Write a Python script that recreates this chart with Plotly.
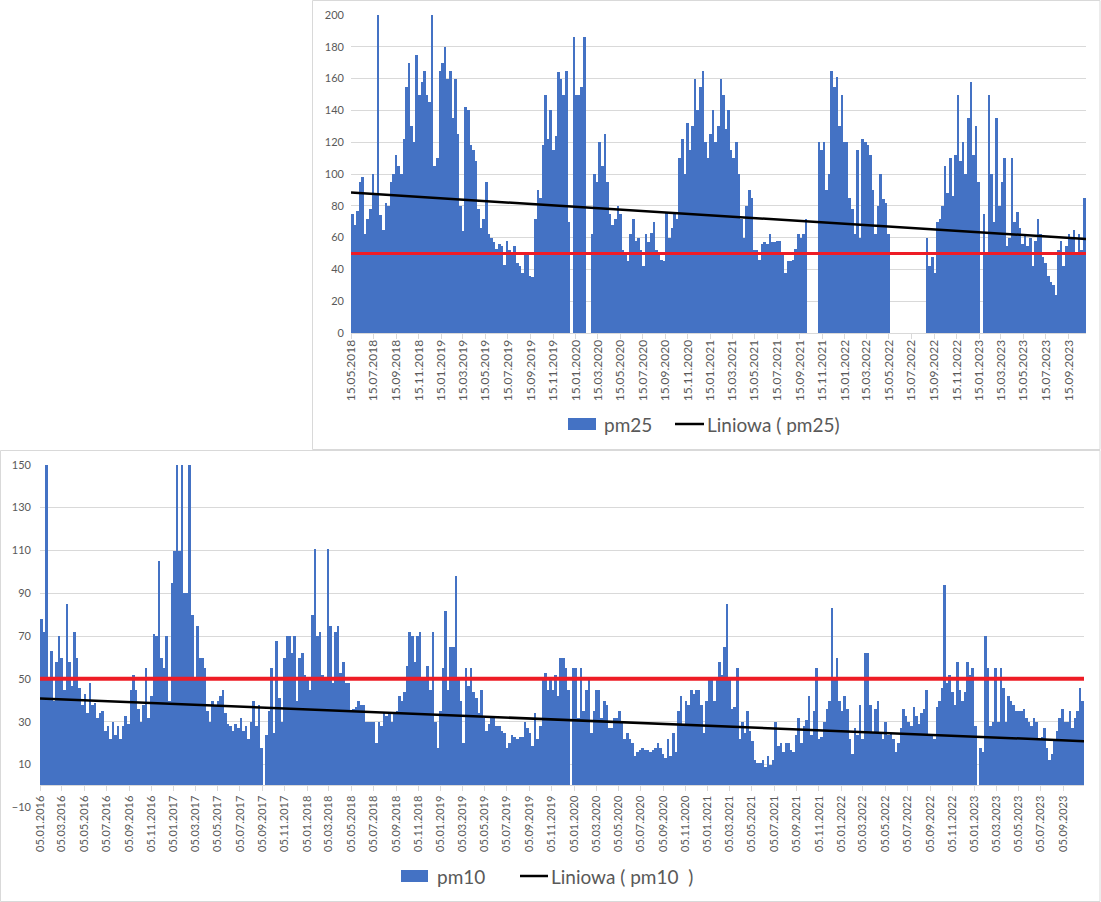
import pandas as pd
import plotly.graph_objects as go

# ---------------- DATA ----------------
# weekly pm2.5 values starting 15.05.2018 (None = no measurements)
pm25_start = "2018-05-15"
pm25 = [
    75, 68, 77, 95, 98, 62, 72, 78, 100,
    88, 200, 74, 65, 82, 80, 95, 100, 112,
    105, 100, 122, 155, 170, 130, 120, 175, 150,
    158, 165, 150, 145, 200, 105, 110, 165,
    170, 180, 160, 165, 135, 160, 125, 80, 64,
    142, 140, 118, 115, 108, 78, 66, 72, 95,
    62, 60, 57, 53, 56, 55, 43, 58,
    52, 50, 55, 44, 42, 38, 50, 50, 36,
    35, 72, 90, 85, 118, 150, 122, 140, 115,
    124, 164, 160, 150, 165, 70, None, 186, 150,
    150, 155, 186, None, None, 62, 100, 95,
    120, 105, 125, 95, 75, 68, 72, 80, 75,
    52, 50, 45, 62, 72, 58, 60, 52, 42,
    62, 57, 63, 70, 52, 51, 46, 45,
    76, 60, 66, 75, 72, 110, 122, 100, 132,
    115, 130, 160, 140, 155, 165, 120, 110, 125,
    140, 120, 130, 160, 150, 128, 140, 115,
    110, 120, 100, 72, 60, 80, 90, 85, 52,
    52, 46, 56, 57, 56, 62, 57, 57, 58,
    58, 50, 38, 45, 45, 46, 53, 62, 60,
    62, 72, None, None, None, None, 120, 115,
    120, 90, 100, 165, 155, 161, 130, 150, 120,
    120, 85, 78, 62, 115, 60, 122, 120,
    118, 112, 90, 62, 80, 100, 84, 82, 62,
    None, None, None, None, None, None, None, None, None,
    None, None, None, None, None, 60, 42, 48, 38,
    70, 72, 80, 105, 88, 110, 86, 112,
    150, 108, 120, 100, 135, 158, 112, 130, 95,
    None, 75, 50, 150, 100, 70, 135, 80, 95,
    110, 55, 60, 110, 70, 76, 66, 56,
    62, 55, 60, 42, 58, 72, 62, 48, 44,
    36, 32, 30, 24, 52, 58, 42, 55, 62,
    60, 65, 50, 62, 52, 85,
]
pm25_range = ["2018-05-15", "2023-11-01"]
pm25_trend = [88.3, 59.1]

# weekly pm10 values starting 05.01.2016
pm10_start = "2016-01-05"
pm10 = [
    78, 72, 150, 50, 63, 40, 58, 70, 60, 45,
    85, 58, 47, 72, 60, 46, 38, 43, 34, 48,
    38, 39, 32, 34, 35, 26, 28, 22, 30, 24,
    28, 22, 28, 33, 29, 45, 52, 45, 36, 30,
    38, 55, 32, 42, 71, 70, 105, 60, 55, 70,
    40, 95, 110, 150, 110, 150, 90, 90, 150, 80,
    50, 75, 60, 60, 55, 35, 30, 40, 38, 40,
    42, 45, 34, 29, 28, 26, 29, 27, 32, 26,
    28, 22, 30, 40, 28, 38, 18, None, 24, 35,
    55, 25, 68, 41, 30, 60, 70, 70, 62, 70,
    40, 60, 62, 52, 50, 45, 80, 111, 70, 72,
    52, 50, 111, 75, 48, 72, 75, 53, 58, 48,
    48, 35, 36, 37, 40, 38, 38, 30, 30, 30,
    30, 20, 30, 28, 34, 33, 34, 30, 34, 35,
    42, 40, 44, 56, 72, 70, 58, 70, 72, 50,
    50, 56, 45, 72, 30, 18, 35, 55, 82, 45,
    65, 65, 98, 50, 40, 20, 55, 47, 55, 44,
    41, 34, 45, 32, 26, 29, 33, 33, 28, 28,
    26, 25, 18, 20, 24, 23, 22, 23, 23, 30,
    27, 25, 19, 34, 22, 28, 50, 53, 45, 50,
    45, 52, 42, 60, 60, 55, 45, None, 55, 55,
    32, 55, 35, 45, 50, 25, 35, 45, 45, 32,
    40, 38, 27, 27, 32, 32, 35, 30, 22, 25,
    22, 20, 14, 16, 17, 18, 17, 17, 16, 17,
    18, 20, 18, 15, 13, 22, 14, 25, 16, 35,
    42, 28, 40, 38, 45, 43, 45, 45, 38, 25,
    40, 50, 50, 40, 50, 58, 52, 65, 85, 50,
    36, 37, 55, 22, 30, 25, 35, 26, 21, 12,
    11, 11, 12, 9, 14, 10, 12, 30, 19, 20,
    16, 20, 20, 17, 16, 24, 32, 20, 28, 31,
    42, 24, 35, 55, 22, 23, 30, 36, 40, 83,
    50, 60, 40, 35, 42, 36, 22, 15, 27, 24,
    38, 22, 62, 62, 38, 25, 36, 40, 25, 22,
    30, 24, 25, 22, 16, 20, 27, 36, 33, 30,
    28, 37, 33, 29, 34, 36, 45, 24, 24, 22,
    37, 40, 46, 94, 48, 52, 44, 38, 58, 45,
    40, 44, 58, 52, 55, 28, None, 18, 16, 70,
    55, 28, 30, 55, 30, 55, 46, 30, 42, 40,
    38, 35, 35, 35, 36, 32, 30, 28, 32, 30,
    22, 23, 27, 18, 12, 15, 21, 26, 32, 36,
    30, 30, 35, 27, 32, 35, 46, 40,
]
pm10_range = ["2016-01-05", "2023-10-31"]
pm10_trend = [40.8, 20.9]

limit = [50, 50]

top_ticks = [
    "15.05.2018", "15.07.2018", "15.09.2018", "15.11.2018",
    "15.01.2019", "15.03.2019", "15.05.2019", "15.07.2019", "15.09.2019", "15.11.2019",
    "15.01.2020", "15.03.2020", "15.05.2020", "15.07.2020", "15.09.2020", "15.11.2020",
    "15.01.2021", "15.03.2021", "15.05.2021", "15.07.2021", "15.09.2021", "15.11.2021",
    "15.01.2022", "15.03.2022", "15.05.2022", "15.07.2022", "15.09.2022", "15.11.2022",
    "15.01.2023", "15.03.2023", "15.05.2023", "15.07.2023", "15.09.2023",
]
bottom_ticks = [
    "05.01.2016", "05.03.2016", "05.05.2016", "05.07.2016", "05.09.2016", "05.11.2016",
    "05.01.2017", "05.03.2017", "05.05.2017", "05.07.2017", "05.09.2017", "05.11.2017",
    "05.01.2018", "05.03.2018", "05.05.2018", "05.07.2018", "05.09.2018", "05.11.2018",
    "05.01.2019", "05.03.2019", "05.05.2019", "05.07.2019", "05.09.2019", "05.11.2019",
    "05.01.2020", "05.03.2020", "05.05.2020", "05.07.2020", "05.09.2020", "05.11.2020",
    "05.01.2021", "05.03.2021", "05.05.2021", "05.07.2021", "05.09.2021", "05.11.2021",
    "05.01.2022", "05.03.2022", "05.05.2022", "05.07.2022", "05.09.2022", "05.11.2022",
    "05.01.2023", "05.03.2023", "05.05.2023", "05.07.2023", "05.09.2023",
]

# ---------------- STYLE / LAYOUT HELPERS ----------------
W, H = 1101, 902
BLUE = "#4472c4"
GRID = "#d9d9d9"
TXT = "#595959"
FONT = "Lato"
WEEK_MS = 7 * 86400000


def px(x):
    return x / W


def py(y):
    return 1 - y / H


x25 = pd.date_range(pm25_start, periods=len(pm25), freq="7D")
x10 = pd.date_range(pm10_start, periods=len(pm10), freq="7D")
top_tickvals = pd.to_datetime(top_ticks, format="%d.%m.%Y")
bottom_tickvals = pd.to_datetime(bottom_ticks, format="%d.%m.%Y")

fig = go.Figure()

# ---- top chart (pm25)
fig.add_trace(go.Bar(x=x25, y=pm25, width=WEEK_MS, offset=0, marker=dict(color=BLUE, line=dict(width=0)),
                     xaxis="x", yaxis="y", name="pm25", showlegend=False))
fig.add_trace(go.Scatter(x=pd.to_datetime(pm25_range), y=limit, mode="lines",
                         line=dict(color="#ee1c25", width=3), xaxis="x", yaxis="y", showlegend=False))
fig.add_trace(go.Scatter(x=pd.to_datetime(pm25_range), y=pm25_trend, mode="lines",
                         line=dict(color="black", width=2.5), xaxis="x", yaxis="y",
                         name="Liniowa ( pm25)", showlegend=False))

# ---- bottom chart (pm10)
fig.add_trace(go.Bar(x=x10, y=pm10, width=WEEK_MS, offset=0, marker=dict(color=BLUE, line=dict(width=0)),
                     xaxis="x2", yaxis="y2", name="pm10", showlegend=False))
fig.add_trace(go.Scatter(x=pd.to_datetime(pm10_range), y=limit, mode="lines",
                         line=dict(color="#ee1c25", width=4), xaxis="x2", yaxis="y2", showlegend=False))
fig.add_trace(go.Scatter(x=pd.to_datetime(pm10_range), y=pm10_trend, mode="lines",
                         line=dict(color="black", width=2.5), xaxis="x2", yaxis="y2",
                         name="Liniowa ( pm10  )", showlegend=False))

axis_common = dict(showgrid=False, ticks="outside", ticklen=5, tickcolor=GRID, tickwidth=1,
                   showline=True, linecolor=GRID, linewidth=1, tickangle=-90, type="date",
                   zeroline=False, automargin=False)

fig.update_layout(
    width=W, height=H,
    margin=dict(l=0, r=0, t=0, b=0, pad=0),
    paper_bgcolor="white", plot_bgcolor="white",
    font=dict(family=FONT, color=TXT),
    showlegend=False,
    bargap=0,
    xaxis=dict(**axis_common, domain=[px(351), px(1086)], anchor="y",
               range=pm25_range, tickvals=top_tickvals, ticktext=top_ticks,
               tickfont=dict(size=12, color=TXT), ticklabelstandoff=-4),
    yaxis=dict(domain=[py(333), py(15)], anchor="x", range=[0, 200], tick0=0, dtick=20,
               showgrid=True, gridcolor=GRID, gridwidth=1, zeroline=False, showline=False,
               automargin=False, tickfont=dict(size=11, color=TXT), ticklabelstandoff=6),
    xaxis2=dict(**axis_common, domain=[px(40), px(1084)], anchor="free", position=py(785.3),
                range=pm10_range, tickvals=bottom_tickvals, ticktext=bottom_ticks,
                tickfont=dict(size=11, color=TXT)),
    yaxis2=dict(domain=[py(807.3), py(464.7)], anchor="x2", range=[-10, 150], tick0=-10, dtick=20,
                showgrid=True, gridcolor=GRID, gridwidth=1, zeroline=False, showline=False,
                automargin=False, tickfont=dict(size=11, color=TXT), ticklabelstandoff=8),
)

shapes = [
    # chart-area borders
    dict(type="rect", xref="paper", yref="paper", x0=px(312.5), x1=px(1100), y0=py(449.5), y1=py(0.5),
         line=dict(color=GRID, width=1), fillcolor="rgba(0,0,0,0)"),
    dict(type="rect", xref="paper", yref="paper", x0=px(0.5), x1=px(1100), y0=py(901.5), y1=py(450.5),
         line=dict(color=GRID, width=1), fillcolor="rgba(0,0,0,0)"),
    # legend symbols (top)
    dict(type="rect", xref="paper", yref="paper", x0=px(568), x1=px(596), y0=py(430), y1=py(418),
         line=dict(width=0), fillcolor=BLUE),
    dict(type="line", xref="paper", yref="paper", x0=px(675), x1=px(704), y0=py(424), y1=py(424),
         line=dict(color="black", width=2.5)),
    # legend symbols (bottom)
    dict(type="rect", xref="paper", yref="paper", x0=px(401), x1=px(428), y0=py(882), y1=py(870),
         line=dict(width=0), fillcolor=BLUE),
    dict(type="line", xref="paper", yref="paper", x0=px(520), x1=px(548), y0=py(876), y1=py(876),
         line=dict(color="black", width=2.5)),
]
annotations = [
    dict(text="pm25", x=px(602), y=py(424)),
    dict(text="Liniowa ( pm25)", x=px(705), y=py(424)),
    dict(text="pm10", x=px(435), y=py(876)),
    dict(text="Liniowa ( pm10 \u00a0)", x=px(549), y=py(876)),
]
for a in annotations:
    a.update(xref="paper", yref="paper", xanchor="left", yanchor="middle", showarrow=False,
             font=dict(size=19, color=TXT, family=FONT))
fig.update_layout(shapes=shapes, annotations=annotations)

page_js = """
document.documentElement.style.margin='0';
document.body.style.margin='0';
document.body.style.overflow='hidden';
"""
fig.write_html("out.html", config={"displayModeBar": False}, post_script=page_js)
